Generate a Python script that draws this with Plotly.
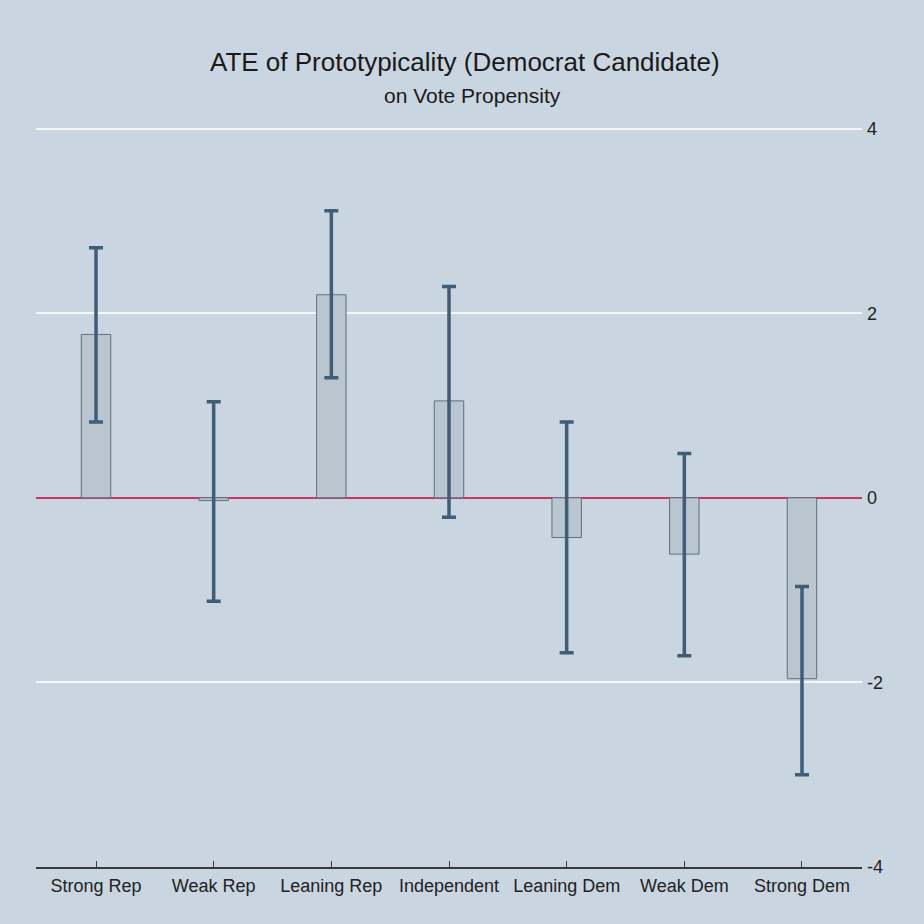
import plotly.graph_objects as go

categories = ["Strong Rep", "Weak Rep", "Leaning Rep", "Independent",
              "Leaning Dem", "Weak Dem", "Strong Dem"]
ate = [1.77, -0.03, 2.20, 1.05, -0.43, -0.61, -1.96]
ci_high = [2.71, 1.04, 3.11, 2.29, 0.82, 0.48, -0.96]
ci_low = [0.82, -1.12, 1.30, -0.21, -1.68, -1.71, -3.00]
y_ticks = [-4, -2, 0, 2, 4]

BG = "#c9d5e0"
FONT = "Liberation Sans, Arial, sans-serif"

err_plus = [h - e for h, e in zip(ci_high, ate)]
err_minus = [e - l for e, l in zip(ate, ci_low)]

fig = go.Figure()
fig.add_trace(go.Bar(
    x=list(range(len(categories))), y=ate, width=0.25,
    marker=dict(color="#b9c6d0", line=dict(color="#5d7081", width=1)),
    error_y=dict(type="data", symmetric=False, array=err_plus, arrayminus=err_minus,
                 color="#3f5e76", thickness=3.5, width=7),
    showlegend=False,
))

fig.update_layout(
    width=924, height=924,
    paper_bgcolor=BG, plot_bgcolor=BG,
    margin=dict(l=36, r=62, t=124, b=57),
    font=dict(family=FONT, color="#222222"),
    xaxis=dict(
        range=[-0.51, 6.51],
        tickmode="array", tickvals=list(range(len(categories))), ticktext=categories,
        tickfont=dict(size=18, color="#222222"),
        showgrid=False, zeroline=False,
        showline=True, linecolor="#3a3a3a", linewidth=1.5,
        ticks="inside", ticklen=6, tickcolor="#3a3a3a", tickwidth=1,
        ticklabelstandoff=2,
    ),
    yaxis=dict(
        range=[-4, 4.05], side="right",
        tickmode="array", tickvals=y_ticks, ticktext=[str(v) for v in y_ticks],
        tickfont=dict(size=18, color="#222222"),
        showgrid=True, gridcolor="#f4f6f8", gridwidth=1.5,
        zeroline=True, zerolinecolor="#c23a5f", zerolinewidth=2,
        showline=False, ticks="", ticklabelstandoff=4,
    ),
    annotations=[
        dict(text="ATE of Prototypicality (Democrat Candidate)", xref="paper", yref="paper",
             x=0.519, y=1.0834, xanchor="center", yanchor="middle",
             showarrow=False, font=dict(size=26, color="#1a1a1a", family=FONT)),
        dict(text="on Vote Propensity", xref="paper", yref="paper",
             x=0.529, y=1.0377, xanchor="center", yanchor="middle",
             showarrow=False, font=dict(size=21, color="#1a1a1a", family=FONT)),
    ],
)

fig.write_html("out.html", config={"displayModeBar": False},
               post_script="document.body.style.margin='0';document.body.style.background='%s';" % BG)
